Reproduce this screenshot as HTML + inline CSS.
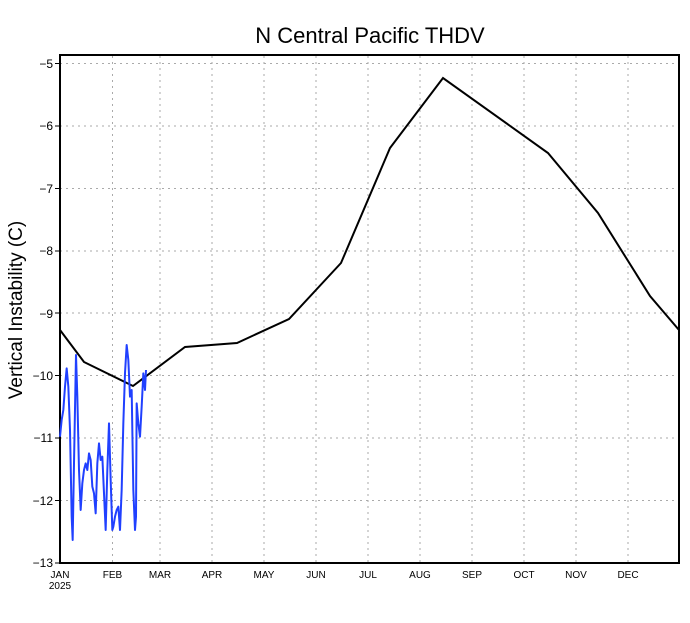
<!DOCTYPE html>
<html><head><style>body{margin:0;background:#fff}</style></head><body>
<svg width="690" height="618" xmlns="http://www.w3.org/2000/svg" font-family="Liberation Sans, sans-serif">
<rect width="690" height="618" fill="#fff"/>
<text x="370" y="43" font-size="22" text-anchor="middle">N Central Pacific THDV</text>
<text transform="translate(22,310) rotate(-90)" font-size="19" text-anchor="middle">Vertical Instability (C)</text>
<g stroke="#aaa" stroke-width="1" stroke-dasharray="2,4">
<line x1="60" y1="63.5" x2="679" y2="63.5"/><line x1="60" y1="126" x2="679" y2="126"/>
<line x1="60" y1="188.5" x2="679" y2="188.5"/><line x1="60" y1="251" x2="679" y2="251"/>
<line x1="60" y1="313" x2="679" y2="313"/><line x1="60" y1="375.5" x2="679" y2="375.5"/>
<line x1="60" y1="438" x2="679" y2="438"/><line x1="60" y1="500.5" x2="679" y2="500.5"/>
<line x1="112.5" y1="56" x2="112.5" y2="563"/><line x1="160" y1="56" x2="160" y2="563"/>
<line x1="212" y1="56" x2="212" y2="563"/><line x1="264" y1="56" x2="264" y2="563"/>
<line x1="316" y1="56" x2="316" y2="563"/><line x1="368" y1="56" x2="368" y2="563"/>
<line x1="420" y1="56" x2="420" y2="563"/><line x1="472" y1="56" x2="472" y2="563"/>
<line x1="524" y1="56" x2="524" y2="563"/><line x1="576" y1="56" x2="576" y2="563"/>
<line x1="628" y1="56" x2="628" y2="563"/>
</g>
<rect x="60" y="55" width="619" height="508" fill="none" stroke="#000" stroke-width="2"/>
<g font-size="12" text-anchor="end">
<text x="53" y="68">−5</text><text x="53" y="130">−6</text><text x="53" y="193">−7</text>
<text x="53" y="255">−8</text><text x="53" y="318">−9</text><text x="53" y="380">−10</text>
<text x="53" y="442">−11</text><text x="53" y="505">−12</text><text x="53" y="567">−13</text>
</g>
<g stroke="#000"><line x1="55" y1="63.5" x2="60" y2="63.5"/><line x1="55" y1="126" x2="60" y2="126"/><line x1="55" y1="188.5" x2="60" y2="188.5"/><line x1="55" y1="251" x2="60" y2="251"/><line x1="55" y1="313" x2="60" y2="313"/><line x1="55" y1="375.5" x2="60" y2="375.5"/><line x1="55" y1="438" x2="60" y2="438"/><line x1="55" y1="500.5" x2="60" y2="500.5"/><line x1="55" y1="563" x2="60" y2="563"/></g>
<g font-size="10" text-anchor="middle">
<text x="60" y="578">JAN</text><text x="60" y="589">2025</text>
<text x="112.5" y="578">FEB</text><text x="160" y="578">MAR</text><text x="212" y="578">APR</text>
<text x="264" y="578">MAY</text><text x="316" y="578">JUN</text><text x="368" y="578">JUL</text>
<text x="420" y="578">AUG</text><text x="472" y="578">SEP</text><text x="524" y="578">OCT</text>
<text x="576" y="578">NOV</text><text x="628" y="578">DEC</text>
</g>
<polyline fill="none" stroke="#000" stroke-width="2" points="60,330 84,362 133,386 185,347 237,343 289,319 341,263 390,148 443,78 548,153 598,213 650,296 679,330"/>
<g transform="translate(40,330) scale(0.33333)">
<polyline fill="none" stroke="#2040ff" stroke-width="6" stroke-linejoin="round" points="60,320 65,270 70,240 75,170 80,115 85,170 90,300 95,560 98,630 102,400 108,75 112,200 117,420 122,540 127,460 132,420 137,400 142,420 147,370 152,390 157,470 162,490 167,550 172,400 177,340 182,390 187,380 192,490 197,600 202,420 207,280 212,450 217,600 220,590 225,560 230,540 235,530 240,600 245,480 250,280 255,130 260,45 265,90 270,200 275,180 280,480 285,600 288,560 290,220 295,280 300,320 305,230 310,130 315,180 318,120"/>
</g>
</svg>
</body></html>
